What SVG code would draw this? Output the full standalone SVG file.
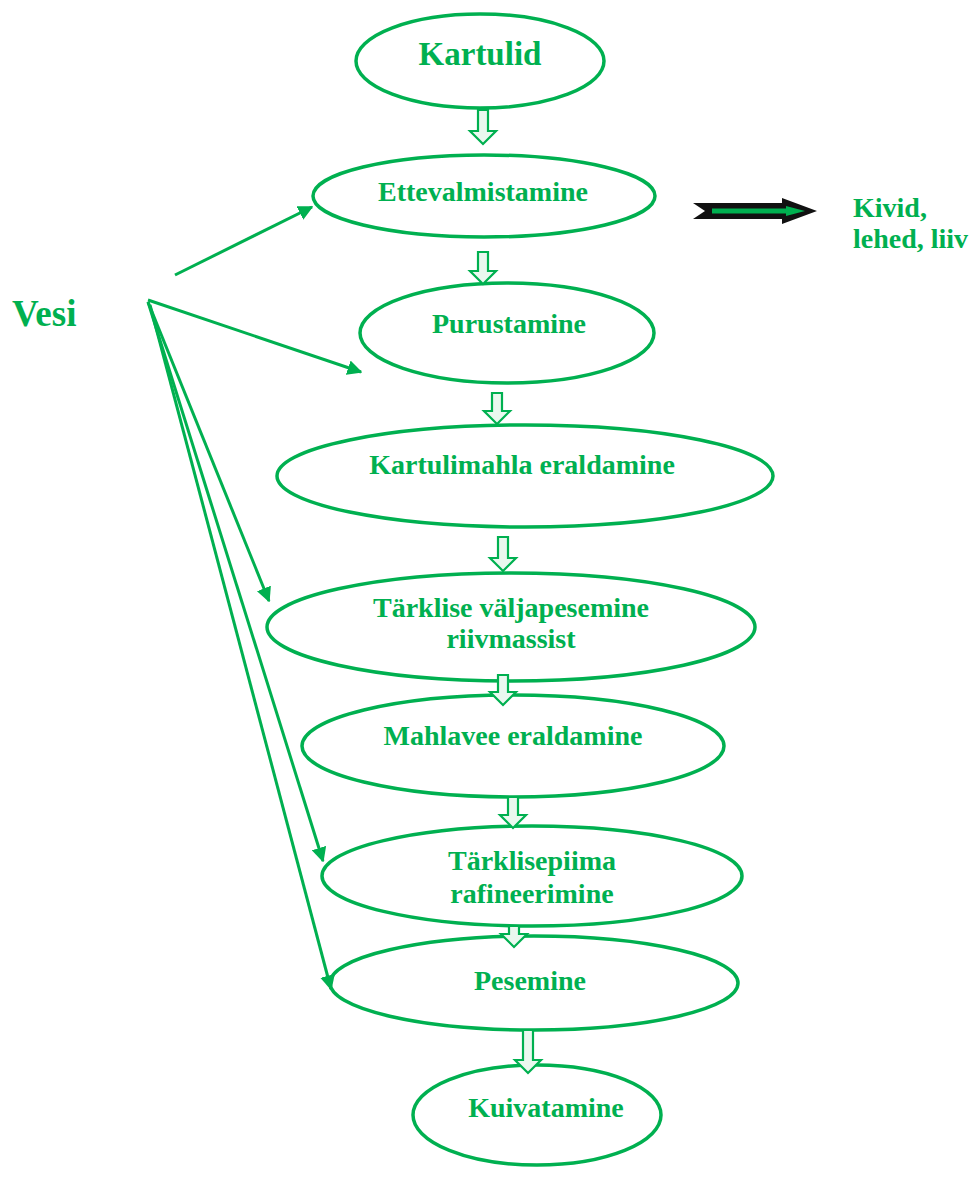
<svg xmlns="http://www.w3.org/2000/svg" width="976" height="1179" viewBox="0 0 976 1179">
<defs>
<style>
.n{fill:#ffffff;stroke:#00b050;stroke-width:3.5}
.t{font-family:"Liberation Serif","Times New Roman",serif;font-weight:bold;fill:#00b050;font-size:28px;text-anchor:middle}
.big{font-size:33px}
.da{fill:#eaf8ef;stroke:#00b050;stroke-width:2.2}
.ln{stroke:#00b050;stroke-width:3;fill:none;marker-end:url(#ah)}
</style>
<marker id="ah" viewBox="0 0 10 10" refX="9" refY="5" markerWidth="5" markerHeight="5" orient="auto" markerUnits="strokeWidth">
<path d="M0,0 L10,5 L0,10 Z" fill="#00b050"/>
</marker>
</defs>
<rect width="976" height="1179" fill="#ffffff"/>
<g id="kartulid"><ellipse class="n" cx="480" cy="61" rx="124" ry="47"/><text class="t big" x="480" y="65">Kartulid</text></g>
<g id="ettevalmistamine"><ellipse class="n" cx="484" cy="196" rx="171" ry="41"/><text class="t" x="483" y="201">Ettevalmistamine</text></g>
<g id="purustamine"><ellipse class="n" cx="507" cy="333" rx="147" ry="50"/><text class="t" x="509" y="333">Purustamine</text></g>
<g id="kartulimahla"><ellipse class="n" cx="525" cy="476" rx="248" ry="51"/><text class="t" x="522" y="474">Kartulimahla eraldamine</text></g>
<g id="tarklise"><ellipse class="n" cx="511" cy="627" rx="244" ry="54"/><text class="t" x="511" y="617">Tärklise väljapesemine</text><text class="t" x="511" y="648">riivmassist</text></g>
<g id="mahlavee"><ellipse class="n" cx="513" cy="746" rx="211" ry="51"/><text class="t" x="513" y="745">Mahlavee eraldamine</text></g>
<g id="tarklisepiima"><ellipse class="n" cx="532" cy="876" rx="210" ry="50"/><text class="t" x="532" y="870">Tärklisepiima</text><text class="t" x="532" y="903">rafineerimine</text></g>
<g id="pesemine"><ellipse class="n" cx="534" cy="983" rx="204" ry="47"/><text class="t" x="530" y="990">Pesemine</text></g>
<g id="kuivatamine"><ellipse class="n" cx="537" cy="1115" rx="124" ry="50"/><text class="t" x="546" y="1117">Kuivatamine</text></g>
<g id="vesi"><text class="t" x="12" y="326" style="text-anchor:start;font-size:37px">Vesi</text></g>
<g id="kivid"><text class="t" x="853" y="217" style="text-anchor:start">Kivid,</text><text class="t" x="853" y="248" style="text-anchor:start">lehed, liiv</text></g>
<g id="connectors">
<path class="da" d="M478,110 L488,110 L488,131 L496,131 L483,144 L470,131 L478,131 Z"/>
<path class="da" d="M478,252 L488,252 L488,271 L496,271 L483,284 L470,271 L478,271 Z"/>
<path class="da" d="M492,393 L502,393 L502,411 L510,411 L497,424 L484,411 L492,411 Z"/>
<path class="da" d="M498,537 L508,537 L508,558 L516,558 L503,571 L490,558 L498,558 Z"/>
<path class="da" d="M498,675 L508,675 L508,692 L516,692 L503,705 L490,692 L498,692 Z"/>
<path class="da" d="M508,797 L518,797 L518,815 L526,815 L513,828 L500,815 L508,815 Z"/>
<path class="da" d="M509,926 L519,926 L519,934 L527,934 L514,947 L501,934 L509,934 Z"/>
<path class="da" d="M523,1030 L533,1030 L533,1060 L541,1060 L528,1073 L515,1060 L523,1060 Z"/>
<line class="ln" x1="175" y1="275" x2="312" y2="207"/>
<line class="ln" x1="148" y1="300" x2="361" y2="372"/>
<line class="ln" x1="148" y1="302" x2="269" y2="601"/>
<line class="ln" x1="148" y1="302" x2="323" y2="861"/>
<line class="ln" x1="150" y1="305" x2="331" y2="989"/>
<path d="M693,203 L782,203 L782,198 L817,211 L782,224 L782,219 L693,219 L705,211 Z" fill="#111111"/>
<path d="M712,208.5 L786,208.5 L786,206 L805,211 L786,216 L786,213.5 L712,213.5 Z" fill="#00b050"/>
</g>
</svg>
